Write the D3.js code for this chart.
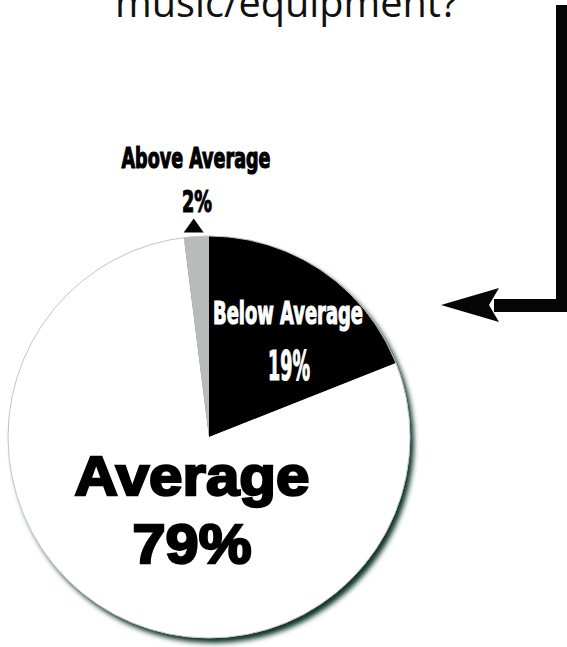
<!DOCTYPE html>
<html>
<head>
<meta charset="utf-8">
<script src="https://cdn.jsdelivr.net/npm/d3@7"></script>
<style>
  html, body { margin: 0; padding: 0; background: #fff; }
  svg { display: block; }
</style>
</head>
<body>
<svg id="chart" width="567" height="647"></svg>
<script>
// Survey answers: how the respondents rate their music/equipment
const categories = ["Below Average", "Average", "Above Average"];
const percents = [19, 79, 2];
const percentLabels = ["19%", "79%", "2%"];
const titleLine = "music/equipment?";

const sliceFill = {
  "Below Average": "#030303",
  "Average": "#ffffff",
  "Above Average": "#b7bbba"
};

const svg = d3.select("#chart");
const cx = 209, cy = 437, radius = 201;

// shadow under the pie
const defs = svg.append("defs");
const shadow = defs.append("filter").attr("id", "pieShadow")
  .attr("x", "-10%").attr("y", "-10%").attr("width", "120%").attr("height", "120%");
shadow.append("feGaussianBlur").attr("in", "SourceAlpha").attr("stdDeviation", 2.6).attr("result", "blur");
shadow.append("feOffset").attr("in", "blur").attr("dx", 4).attr("dy", 5).attr("result", "off");
shadow.append("feFlood").attr("flood-color", "#12352e").attr("flood-opacity", 1);
shadow.append("feComposite").attr("in2", "off").attr("operator", "in").attr("result", "shade");
const merge = shadow.append("feMerge");
merge.append("feMergeNode").attr("in", "shade");
merge.append("feMergeNode").attr("in", "SourceGraphic");

// title line (upper part runs off the top)
svg.append("text")
  .attr("x", 115).attr("y", 17)
  .attr("textLength", 343).attr("lengthAdjust", "spacingAndGlyphs")
  .attr("font-family", "'Open Sans', 'Noto Sans', sans-serif")
  .attr("font-weight", 400)
  .attr("font-size", 40)
  .attr("fill", "#111")
  .text(titleLine);

// pointer arrow on the right
svg.append("path")
  .attr("d", "M556,5 H567 V312 H494 V299 H556 Z")
  .attr("fill", "#050505");
svg.append("path")
  .attr("d", "M441,305 L499,288 L489,305 L499,322 Z")
  .attr("fill", "#050505");

// pie
const pie = d3.pie().sort(null).value(d => d.value)
  .startAngle(0).endAngle(2 * Math.PI);
const arcs = pie(categories.map((c, i) => ({ name: c, value: percents[i], label: percentLabels[i] })));
const arc = d3.arc().innerRadius(0).outerRadius(radius);

const g = svg.append("g").attr("transform", `translate(${cx},${cy})`);
const pieG = g.append("g").attr("filter", "url(#pieShadow)");
pieG.selectAll("path.slice")
  .data(arcs)
  .join("path")
  .attr("class", "slice")
  .attr("d", arc)
  .attr("fill", d => sliceFill[d.data.name]);

g.append("circle")
  .attr("r", radius)
  .attr("fill", "none")
  .attr("stroke", "#c4c4c4")
  .attr("stroke-width", 1);

const condensed = "'Liberation Sans Narrow', 'DejaVu Sans Condensed', sans-serif";
const heavy = "'Liberation Sans', Arial, sans-serif";

// Below Average label, inside the dark slice
const below = arcs[0];
g.append("text")
  .attr("x", 79).attr("y", 324 - cy)
  .attr("text-anchor", "middle")
  .attr("textLength", 150).attr("lengthAdjust", "spacingAndGlyphs")
  .attr("font-family", condensed).attr("font-weight", "bold").attr("font-size", 32)
  .attr("fill", "#fff").attr("stroke", "#fff").attr("stroke-width", 1.2)
  .text(below.data.name);
g.append("text")
  .attr("x", 80).attr("y", 380 - cy)
  .attr("text-anchor", "middle")
  .attr("textLength", 42).attr("lengthAdjust", "spacingAndGlyphs")
  .attr("font-family", condensed).attr("font-weight", "bold").attr("font-size", 40)
  .attr("fill", "#fff").attr("stroke", "#fff").attr("stroke-width", 1.2)
  .text(below.data.label);

// Average label, large in the white slice
const avg = arcs[1];
g.append("text")
  .attr("x", 192 - cx).attr("y", 495 - cy)
  .attr("text-anchor", "middle")
  .attr("textLength", 235).attr("lengthAdjust", "spacingAndGlyphs")
  .attr("font-family", heavy).attr("font-weight", "bold").attr("font-size", 56)
  .attr("fill", "#000").attr("stroke", "#000").attr("stroke-width", 2.4)
  .text(avg.data.name);
g.append("text")
  .attr("x", 192 - cx).attr("y", 563 - cy)
  .attr("text-anchor", "middle")
  .attr("textLength", 119).attr("lengthAdjust", "spacingAndGlyphs")
  .attr("font-family", heavy).attr("font-weight", "bold").attr("font-size", 56)
  .attr("fill", "#000").attr("stroke", "#000").attr("stroke-width", 2.4)
  .text(avg.data.label);

// Above Average: small slice, labelled outside with a marker
const above = arcs[2];
const mid = (above.startAngle + above.endAngle) / 2;
const mr = radius + 11;
const mx = Math.sin(mid) * mr - 2, my = -Math.cos(mid) * mr;
g.append("path")
  .attr("d", `M${mx},${my - 7} L${mx + 10},${my + 7} L${mx - 10},${my + 7} Z`)
  .attr("fill", "#000");
g.append("text")
  .attr("x", 196 - cx).attr("y", 168 - cy)
  .attr("text-anchor", "middle")
  .attr("textLength", 149).attr("lengthAdjust", "spacingAndGlyphs")
  .attr("font-family", condensed).attr("font-weight", "bold").attr("font-size", 29)
  .attr("fill", "#000").attr("stroke", "#000").attr("stroke-width", 1.2)
  .text(above.data.name);
g.append("text")
  .attr("x", 197 - cx).attr("y", 212 - cy)
  .attr("text-anchor", "middle")
  .attr("textLength", 30).attr("lengthAdjust", "spacingAndGlyphs")
  .attr("font-family", condensed).attr("font-weight", "bold").attr("font-size", 31)
  .attr("fill", "#000").attr("stroke", "#000").attr("stroke-width", 1.2)
  .text(above.data.label);
</script>
</body>
</html>
